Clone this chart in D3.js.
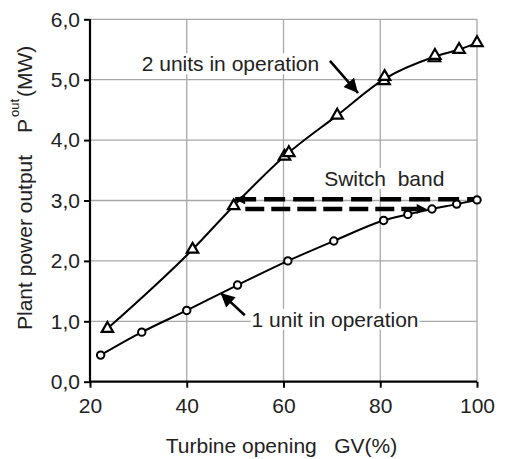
<!DOCTYPE html>
<html>
<head>
<meta charset="utf-8">
<script src="https://cdn.jsdelivr.net/npm/d3@7"></script>
<style>
  body { margin: 0; background: #fff; }
  svg text { font-family: "Liberation Sans", Arial, sans-serif; fill: #222; }
</style>
</head>
<body>
<svg id="chart" width="508" height="459"></svg>
<script>
// Axis ticks
const xTicks = [20, 40, 60, 80, 100];
const yTicks = [0, 1, 2, 3, 4, 5, 6];
const yTickLabels = ["0,0", "1,0", "2,0", "3,0", "4,0", "5,0", "6,0"];

// Measured plant output with two units running (GV %, MW)
const twoUnitsGV = [23.6, 41.2, 49.7, 60.2, 61.1, 71.1, 80.8, 80.9, 91.2, 91.3, 96.3, 100];
const twoUnitsP  = [0.88, 2.19, 2.91, 3.73, 3.79, 4.41, 4.98, 5.05, 5.36, 5.40, 5.50, 5.61];

// Trend curve drawn through the two-unit measurements
const twoCurveGV = [23.6, 41.2, 49.7, 60.6, 71.1, 80.8, 91.2, 96.3, 100];
const twoCurveP  = [0.88, 2.19, 2.91, 3.76, 4.41, 5.01, 5.38, 5.50, 5.61];

// Measured plant output with one unit running (GV %, MW)
const oneUnitGV = [22.2, 30.7, 40.0, 50.5, 60.9, 70.4, 80.7, 85.7, 90.7, 95.8, 100];
const oneUnitP  = [0.44, 0.82, 1.18, 1.60, 2.00, 2.33, 2.67, 2.77, 2.86, 2.94, 3.01];

// Switch band limits: [start GV, end GV] and level for each dashed arrow
const switchGV = [[50.0, 100], [52.1, 89.6]];
const switchP  = [3.02, 2.86];
const switchArrowAtStart = [true, false];

// Annotation arrows: tail and tip in data units
const annoTailGV = [69.6, 52.0], annoTailP = [5.31, 1.10];
const annoTipGV  = [75.4, 47.0], annoTipP  = [4.78, 1.47];

// Labels
const labelText = ["2 units in operation", "1 unit in operation", "Switch\u00a0\u00a0band"];
const labelGV = [30.7, 53.4, 68.4];
const labelP  = [5.14, 0.91, 3.24];

const svg = d3.select("#chart");
const margin = { left: 90, top: 19.3, right: 31, bottom: 77.3 };
const W = 508, H = 459;
const x = d3.scaleLinear().domain([20, 100]).range([margin.left, W - margin.right]);
const y = d3.scaleLinear().domain([0, 6]).range([H - margin.bottom, margin.top]);

const FS = 21;
const gridColor = "#a8a8a8";

// Grid
const grid = svg.append("g");
grid.selectAll("line.v").data(xTicks.slice(1)).join("line")
  .attr("x1", d => x(d)).attr("x2", d => x(d))
  .attr("y1", y(0)).attr("y2", y(6))
  .attr("stroke", gridColor).attr("stroke-width", 1.3);
grid.selectAll("line.h").data(yTicks.slice(1)).join("line")
  .attr("x1", x(20)).attr("x2", x(100))
  .attr("y1", d => y(d)).attr("y2", d => y(d))
  .attr("stroke", gridColor).attr("stroke-width", 1.3);

// Text labels with white backing (drawn over the grid)
const labels = svg.append("g");
labelText.forEach((t, i) => {
  const g = labels.append("g");
  const txt = g.append("text")
    .attr("x", x(labelGV[i])).attr("y", y(labelP[i]))
    .attr("font-size", FS).text(t);
  const bb = txt.node().getBBox();
  g.insert("rect", "text")
    .attr("x", bb.x - 1).attr("y", bb.y + 1)
    .attr("width", bb.width + 2).attr("height", bb.height - 2)
    .attr("fill", "#fff");
});

// Axes
const xAxis = d3.axisBottom(x).tickValues(xTicks).tickSize(6).tickPadding(10);
const yAxis = d3.axisLeft(y).tickValues(yTicks).tickSize(6).tickPadding(4)
  .tickFormat((d, i) => yTickLabels[i]);

const gx = svg.append("g").attr("transform", `translate(0,${y(0)})`).call(xAxis);
const gy = svg.append("g").attr("transform", `translate(${x(20)},0)`).call(yAxis);
[gx, gy].forEach(g => {
  g.select(".domain").attr("stroke", "#000").attr("stroke-width", 2.2);
  g.selectAll(".tick line").attr("stroke", "#000").attr("stroke-width", 2);
  g.selectAll(".tick text").attr("font-size", FS).attr("fill", "#222")
    .attr("font-family", "Liberation Sans, Arial, sans-serif");
});
gx.select(".domain").attr("d", `M${x(20)},0H${x(100)}`);
gy.select(".domain").attr("d", `M0,${y(0)}V${y(6)}`);

// Arrowhead definitions
const defs = svg.append("defs");
defs.append("marker").attr("id", "head")
  .attr("viewBox", "0 0 10 10").attr("refX", 10).attr("refY", 5)
  .attr("markerUnits", "userSpaceOnUse")
  .attr("markerWidth", 17).attr("markerHeight", 14)
  .attr("orient", "auto-start-reverse")
  .append("path").attr("d", "M0,0L10,5L0,10Z").attr("fill", "#000");
defs.append("marker").attr("id", "headSmall")
  .attr("viewBox", "0 0 10 10").attr("refX", 10).attr("refY", 5)
  .attr("markerUnits", "userSpaceOnUse")
  .attr("markerWidth", 13).attr("markerHeight", 10)
  .attr("orient", "auto-start-reverse")
  .append("path").attr("d", "M0,0L10,5L0,10Z").attr("fill", "#000");

// Curves
const line = d3.line().x(d => x(d[0])).y(d => y(d[1])).curve(d3.curveMonotoneX);
const twoPts = twoUnitsGV.map((g, i) => [g, twoUnitsP[i]]);
const twoCurve = twoCurveGV.map((g, i) => [g, twoCurveP[i]]);
const onePts = oneUnitGV.map((g, i) => [g, oneUnitP[i]]);

svg.append("path").datum(twoCurve).attr("d", line)
  .attr("fill", "none").attr("stroke", "#000").attr("stroke-width", 2);
svg.append("path").datum(onePts).attr("d", line)
  .attr("fill", "none").attr("stroke", "#000").attr("stroke-width", 2);

// Switch band dashed arrows
switchGV.forEach((r, i) => {
  const p = svg.append("line")
    .attr("x1", x(r[0])).attr("x2", x(r[1]))
    .attr("y1", y(switchP[i])).attr("y2", y(switchP[i]))
    .attr("stroke", "#000").attr("stroke-width", 4.5)
    .attr("stroke-dasharray", i === 0 ? "21,8" : "19,7");
  if (switchArrowAtStart[i]) p.attr("marker-start", "url(#headSmall)");
  else p.attr("marker-end", "url(#headSmall)");
});

// Markers
const tri = d3.symbol().type(d3.symbolTriangle).size(56);
svg.append("g").selectAll("path").data(twoPts).join("path")
  .attr("transform", d => `translate(${x(d[0])},${y(d[1])})`)
  .attr("d", tri)
  .attr("fill", "#fff").attr("stroke", "#000").attr("stroke-width", 2.2);
svg.append("g").selectAll("circle").data(onePts).join("circle")
  .attr("cx", d => x(d[0])).attr("cy", d => y(d[1])).attr("r", 3.7)
  .attr("fill", "#fff").attr("stroke", "#000").attr("stroke-width", 2);

// Annotation arrows
annoTailGV.forEach((g, i) => {
  svg.append("line")
    .attr("x1", x(g)).attr("y1", y(annoTailP[i]))
    .attr("x2", x(annoTipGV[i])).attr("y2", y(annoTipP[i]))
    .attr("stroke", "#000").attr("stroke-width", 2.6)
    .attr("marker-end", "url(#head)");
});

// Axis titles
svg.append("text")
  .attr("x", (x(20) + x(100)) / 2 - 2).attr("y", 453)
  .attr("text-anchor", "middle").attr("font-size", FS)
  .style("white-space", "pre")
  .text("Turbine opening   GV(%)");

const yt = svg.append("text")
  .attr("transform", "translate(32,330) rotate(-90)")
  .attr("font-size", FS)
  .style("white-space", "pre");
yt.append("tspan").attr("x", 0).text("Plant power output");
yt.append("tspan").attr("x", 197).text("P");
yt.append("tspan").attr("x", 213).attr("dy", -13).attr("font-size", 13).text("out");
yt.append("tspan").attr("x", 233).attr("dy", 13).text("(MW)");
</script>
</body>
</html>
